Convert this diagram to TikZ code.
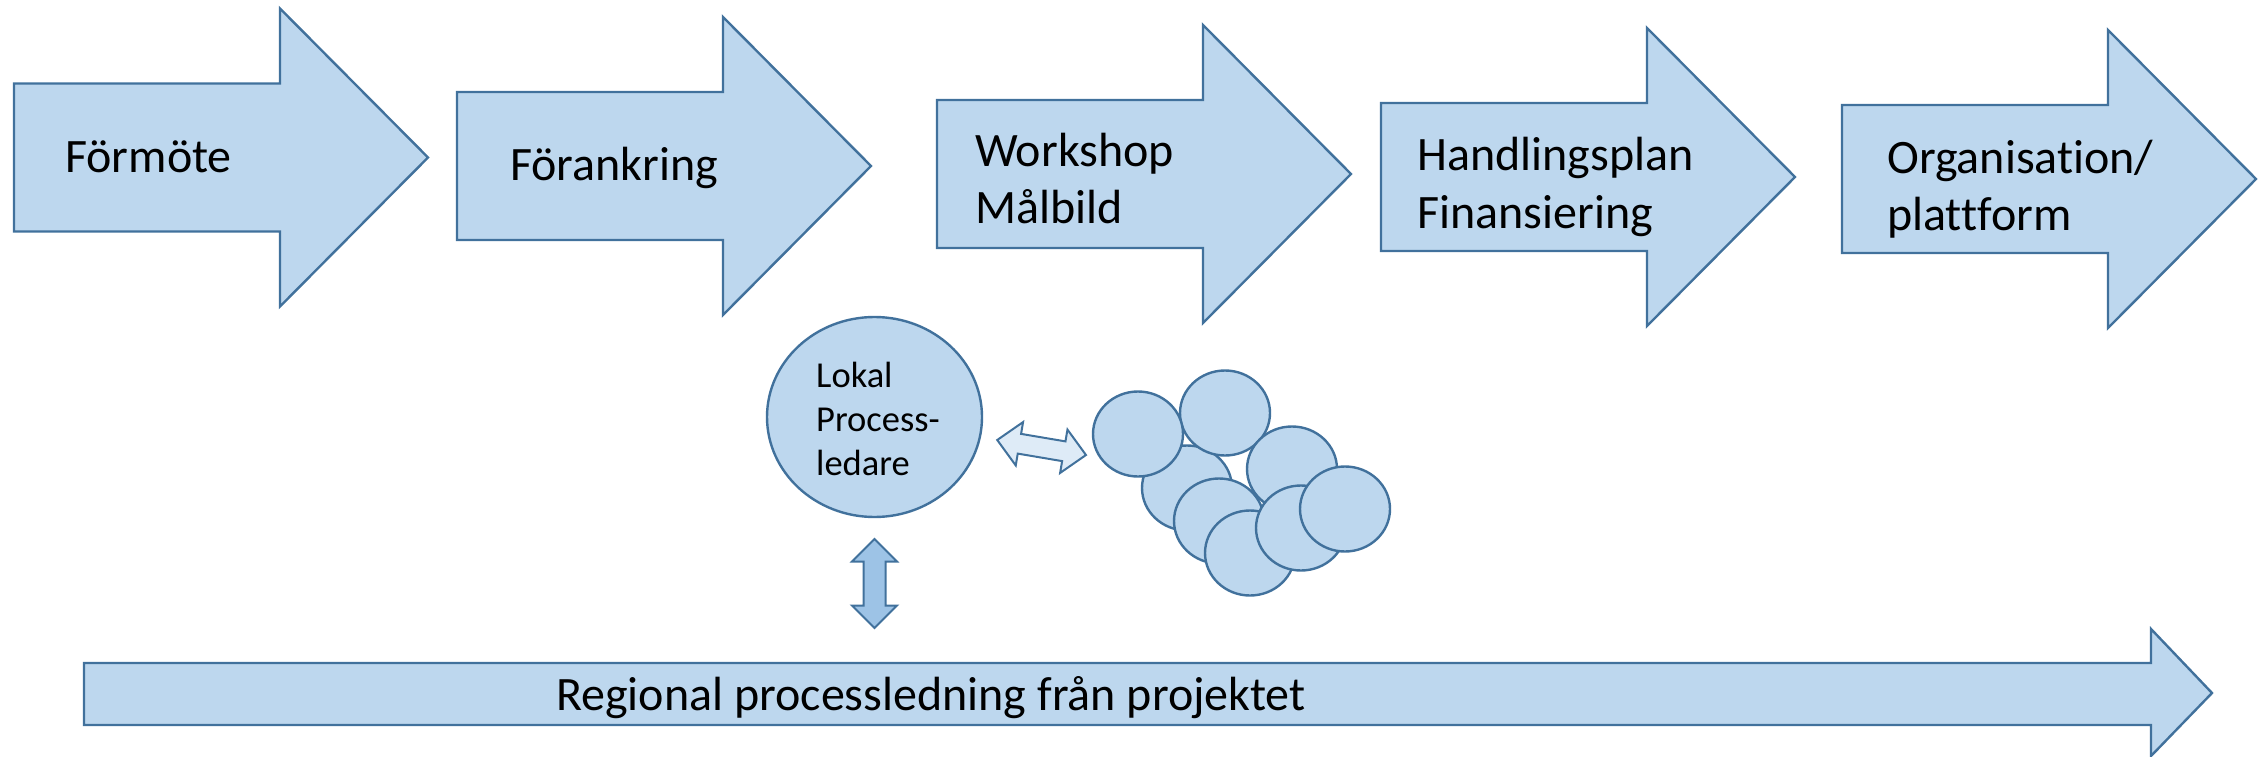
\documentclass[tikz,border=0pt]{standalone}
\usepackage{fontspec}
\setmainfont{Carlito}[Ligatures={NoCommon}]
\usetikzlibrary{shapes.geometric}
\definecolor{mainfill}{HTML}{BDD7EE}
\definecolor{edgeblue}{HTML}{41719C}
\definecolor{darkfill}{HTML}{9DC3E6}
\definecolor{lightfill}{HTML}{DEEBF7}
\newcommand{\procarrowpath}{(0,-74) -- (266,-74) -- (266,-149) -- (414,0) -- (266,149) -- (266,74) -- (0,74) -- cycle}
\newcommand{\dblarrowpath}[4]{(-#1,0) -- (-#1+#2,#3) -- (-#1+#2,#4) -- (#1-#2,#4) -- (#1-#2,#3) -- (#1,0) -- (#1-#2,-#3) -- (#1-#2,-#4) -- (-#1+#2,-#4) -- (-#1+#2,-#3) -- cycle}
\begin{document}
\begin{tikzpicture}[x=1pt,y=-1pt,
  shapeline/.style={draw=edgeblue, line width=2.4pt, line join=miter},
  procshape/.style={shapeline, fill=mainfill},
  bigtxt/.style={anchor=base west, inner sep=0pt, font=\fontsize{48}{57}\selectfont},
  smalltxt/.style={anchor=base west, inner sep=0pt, font=\fontsize{36.5}{44}\selectfont},
  blob/.style={ellipse, shapeline, fill=mainfill, minimum width=90pt, minimum height=85pt, inner sep=0pt}]
\useasboundingbox (0,0) rectangle (2259,757);
% process arrows
\begin{scope}[shift={(14,157.5)}] \path[procshape] \procarrowpath; \end{scope}
\begin{scope}[shift={(457,166)}] \path[procshape] \procarrowpath; \end{scope}
\begin{scope}[shift={(937,174)}] \path[procshape] \procarrowpath; \end{scope}
\begin{scope}[shift={(1381,177)}] \path[procshape] \procarrowpath; \end{scope}
\begin{scope}[shift={(1842,179)}] \path[procshape] \procarrowpath; \end{scope}
\node[bigtxt] (t1) at (65,172) {Förmöte};
\node[bigtxt] (t2) at (510,180) {Förankring};
\node[bigtxt] (t3a) at (975,166) {Workshop};
\node[bigtxt] (t3b) at (975,223) {Målbild};
\node[bigtxt] (t4a) at (1417,171) {Handlingsplan};
\node[bigtxt] (t4b) at (1417,228) {Finansiering};
\node[bigtxt] (t5a) at (1887,173) {Organisation/};
\node[bigtxt] (t5b) at (1887,230) {plattform};
% local process leader
\node[ellipse, shapeline, fill=mainfill, minimum width=215pt, minimum height=200pt, inner sep=0pt] (lokal) at (874.5,417) {};
\node[smalltxt] (l1) at (816,387) {Lokal};
\node[smalltxt] (l2) at (816,431) {Process-};
\node[smalltxt] (l3) at (816,475) {ledare};
% tilted double arrow
\begin{scope}[shift={(1041.6,447.5)}, rotate=-9.6]
  \path[shapeline, line width=2pt, fill=lightfill] \dblarrowpath{45}{22.5}{22}{10};
\end{scope}
% vertical double arrow
\begin{scope}[shift={(874.5,583.5)}, rotate=90]
  \path[shapeline, line width=2pt, fill=darkfill] \dblarrowpath{44.5}{22.5}{22.5}{11};
\end{scope}
% cluster of circles
\node[blob] (c3) at (1187,488) {};
\node[blob] (c2) at (1225,413) {};
\node[blob] (c1) at (1138,434) {};
\node[blob] (c4) at (1292,469) {};
\node[blob] (c5) at (1219,521) {};
\node[blob] (c6) at (1250,553) {};
\node[blob] (c7) at (1301,528) {};
\node[blob] (c8) at (1345,509) {};
% regional arrow
\path[procshape] (84,663) -- (2151,663) -- (2151,629) -- (2212,693) -- (2151,756) -- (2151,725) -- (84,725) -- cycle;
\node[bigtxt] (reg) at (556,710) {Regional processledning från projektet};
\end{tikzpicture}
\end{document}
